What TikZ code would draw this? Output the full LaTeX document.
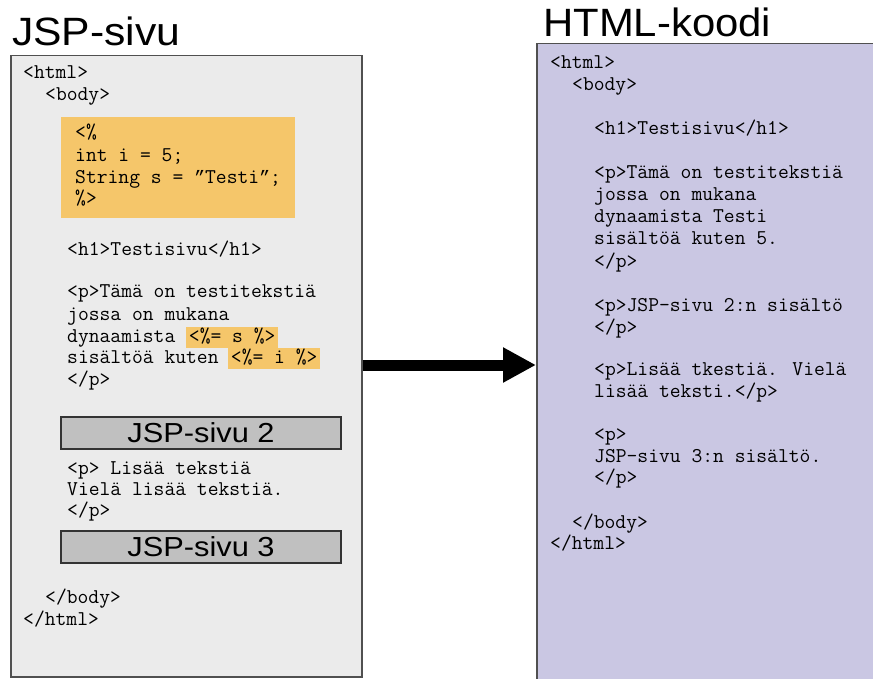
\documentclass[tikz,border=0pt]{standalone}
\usepackage{graphicx}
\usepackage{fontspec}
\setmainfont{Liberation Sans}
\newfontfamily\quotefont{Liberation Mono}
\newcommand{\cq}{\makebox[11pt]{\quotefont\fontsize{18}{22}\selectfont ”}}
\usetikzlibrary{arrows.meta}
\definecolor{leftbg}{HTML}{EBEBEB}
\definecolor{rightbg}{HTML}{CAC7E3}
\definecolor{frame}{HTML}{505050}
\definecolor{jsporange}{HTML}{F5C66A}
\definecolor{incgray}{HTML}{C0C0C0}
\tikzset{
 code/.style={anchor=base west, inner sep=0pt, font=\ttfamily\fontsize{21}{22}\selectfont},
 title/.style={anchor=base west, inner sep=0pt, font=\fontsize{39.5}{46}\selectfont},
 panel/.style={draw=frame, line width=1.5pt, anchor=north west, inner sep=0pt},
 hl/.style={code, fill=jsporange, text height=15.5pt, text depth=6pt, minimum width=92pt},
 include/.style={draw=black!80, fill=incgray, line width=1.2pt, minimum width=280pt, minimum height=32pt, inner sep=0pt, font=\fontsize{27.5}{32}\selectfont},
 bigarrow/.style={line width=11pt, -{Triangle[length=33pt,width=33pt]}}
}
\begin{document}
\begin{tikzpicture}[x=1pt,y=-1pt]
\useasboundingbox (0,0) rectangle (873,679);
\clip (0,0) rectangle (873,679);
% panels
\node[panel, fill=leftbg, minimum width=351pt, minimum height=621pt] (jsp) at (10,55) {};
\node[panel, fill=rightbg, minimum width=400pt, minimum height=700pt] (html) at (536,43) {};
% titles
\node[title] (t1) at (12,46) {\scalebox{1.08}[1]{JSP-sivu}};
\node[title] (t2) at (543,37) {\scalebox{1.06}[1]{HTML-koodi}};
% scriptlet box
\node[anchor=north west, fill=jsporange, inner sep=0pt, minimum width=234pt, minimum height=101pt] (script) at (61,117) {};
% left code
\node[code] (l1) at (23,79) {<html>};
\node[code] (l2) at (45,101) {<body>};
\node[code] (s1) at (75,139) {<\%};
\node[code] (s2) at (75,162) {int i = 5;};
\node[code] (s3) at (75,184) {String s = \cq Testi\cq;};
\node[code] (s4) at (75,205) {\%>};
\node[code] (l3) at (67,255) {<h1>Testisivu</h1>};
\node[code] (l4) at (67,298) {<p>Tämä on testitekstiä};
\node[code] (l5) at (67,320) {jossa on mukana};
\node[code] (l6) at (67,342) {dynaamista};
\node[hl] (h1) at (186,342) {<\%= s \%>};
\node[code] (l7) at (67,363) {sisältöä kuten};
\node[hl] (h2) at (228,363) {<\%= i \%>};
\node[code] (l8) at (67,385) {</p>};
\node[include] (inc2) at (201,433) {\scalebox{1.12}[1]{JSP-sivu 2}};
\node[code] (l9) at (67,474) {<p> Lisää tekstiä};
\node[code] (l10) at (67,495) {Vielä lisää tekstiä.};
\node[code] (l11) at (67,516) {</p>};
\node[include] (inc3) at (201,547) {\scalebox{1.12}[1]{JSP-sivu 3}};
\node[code] (l12) at (45,603) {</body>};
\node[code] (l13) at (23,625) {</html>};
% right code
\node[code] (r1) at (550,69) {<html>};
\node[code] (r2) at (572,91) {<body>};
\node[code] (r3) at (594,135) {<h1>Testisivu</h1>};
\node[code] (r4) at (594,179) {<p>Tämä on testitekstiä};
\node[code] (r5) at (594,201) {jossa on mukana};
\node[code] (r6) at (594,223) {dynaamista Testi};
\node[code] (r7) at (594,245) {sisältöä kuten 5.};
\node[code] (r8) at (594,267) {</p>};
\node[code] (r9) at (594,311) {<p>JSP-sivu 2:n sisältö};
\node[code] (r10) at (594,333) {</p>};
\node[code] (r11) at (594,375) {<p>Lisää tkestiä. Vielä};
\node[code] (r12) at (594,397) {lisää teksti.</p>};
\node[code] (r13) at (594,440) {<p>};
\node[code] (r14) at (594,462) {JSP-sivu 3:n sisältö.};
\node[code] (r15) at (594,483) {</p>};
\node[code] (r16) at (572,528) {</body>};
\node[code] (r17) at (550,549) {</html>};
% arrow
\coordinate (arr) at (0,365);
\draw[bigarrow] (jsp.east |- arr) -- (html.west |- arr);
\end{tikzpicture}
\end{document}
